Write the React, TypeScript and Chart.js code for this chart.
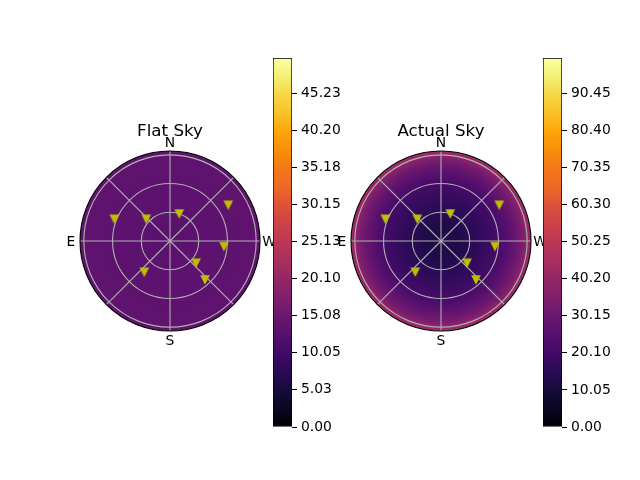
import React, { useEffect, useRef } from "react";
import { Chart, registerables } from "chart.js";

Chart.register(...registerables);

// ---------- data ----------
const panelTitles = ["Flat Sky", "Actual Sky"];
const compassLabels = ["N", "E", "S", "W"]; // azimuth 0, 90, 180, 270
const compassAzimuth = [0, 90, 180, 270];
const starAzimuth = [68.7, 47.5, 341, 301.5, 264, 229.4, 221.9, 140.6];
const starZenith = [62.4, 33.6, 29.8, 71.4, 56.7, 35.8, 54.7, 42.3];
const zenithGrid = [30, 60, 90];
const azimuthGrid = [0, 45, 90, 135, 180, 225, 270, 315];
const zenithMax = 94;
const profileZenith = [0, 15, 30, 45, 60, 70, 80, 86, 90, 94];
const flatSkyProfile = [13.0, 13.0, 13.1, 13.2, 13.3, 13.4, 13.5, 13.6, 13.6, 13.7];
const actualSkyProfile = [12, 12.5, 15, 17.5, 21, 25, 30.5, 35, 39.5, 43];
const flatMax = 50;
const actualMax = 100;
const flatTicks = [0, 5.03, 10.05, 15.08, 20.1, 25.13, 30.15, 35.18, 40.2, 45.23];
const actualTicks = [0, 10.05, 20.1, 30.15, 40.2, 50.25, 60.3, 70.35, 80.4, 90.45];

// inferno colormap, stops every 0.05
const inferno = [
  "#000004", "#0a0722", "#160b39", "#280b54", "#420a68", "#57106e", "#6a176e",
  "#7f1f6c", "#932667", "#a82e5f", "#bc3754", "#cc4248", "#dd513a", "#ed6925",
  "#f37819", "#f98e09", "#fca50a", "#f9c127", "#f6d746", "#f2f074", "#fcffa4",
];

// ---------- helpers ----------
function hexToRgb(h: string) {
  return [parseInt(h.slice(1, 3), 16), parseInt(h.slice(3, 5), 16), parseInt(h.slice(5, 7), 16)];
}
function cmap(t: number) {
  const c = Math.max(0, Math.min(1, t)) * (inferno.length - 1);
  const i = Math.min(inferno.length - 2, Math.floor(c));
  const f = c - i;
  const a = hexToRgb(inferno[i]);
  const b = hexToRgb(inferno[i + 1]);
  const m = a.map((v, j) => Math.round(v + (b[j] - v) * f));
  return `rgb(${m[0]},${m[1]},${m[2]})`;
}
const toXY = (az: number, zen: number) => {
  const r = (az * Math.PI) / 180;
  return { x: -zen * Math.sin(r), y: zen * Math.cos(r) };
};

function makeMarker() {
  const c = document.createElement("canvas");
  c.width = 12;
  c.height = 12;
  const g = c.getContext("2d")!;
  g.fillStyle = "#bfbf00";
  g.beginPath();
  g.moveTo(1.15, 1.15);
  g.lineTo(10.85, 1.15);
  g.lineTo(6, 10.85);
  g.closePath();
  g.fill();
  return c;
}

const FONT = "'DejaVu Sans', sans-serif";

// layout (pixels)
const W = 640;
const H = 480;
const centersX = [170, 441];
const centerY = 241;
const radiusPx = 90;
const k = zenithMax / radiusPx;

const panels = [
  { xId: "xL", title: panelTitles[0], profile: flatSkyProfile, max: flatMax },
  { xId: "xR", title: panelTitles[1], profile: actualSkyProfile, max: actualMax },
];

const skyPlugin = {
  id: "skyPanels",
  beforeDatasetsDraw(chart: any) {
    const ctx = chart.ctx;
    const ys = chart.scales.y;
    panels.forEach((p) => {
      const xs = chart.scales[p.xId];
      const cx = xs.getPixelForValue(0);
      const cy = ys.getPixelForValue(0);
      const R = xs.getPixelForValue(zenithMax) - cx;
      ctx.save();
      const g = ctx.createRadialGradient(cx, cy, 0, cx, cy, R);
      profileZenith.forEach((z, i) => g.addColorStop(z / zenithMax, cmap(p.profile[i] / p.max)));
      ctx.beginPath();
      ctx.arc(cx, cy, R, 0, Math.PI * 2);
      ctx.fillStyle = g;
      ctx.fill();
      ctx.strokeStyle = "#b0b0b0";
      ctx.lineWidth = 1.1;
      zenithGrid.forEach((z) => {
        const r = xs.getPixelForValue(z) - cx;
        ctx.beginPath();
        ctx.arc(cx, cy, r, 0, Math.PI * 2);
        ctx.stroke();
      });
      azimuthGrid.forEach((a) => {
        const e = toXY(a, zenithMax);
        ctx.beginPath();
        ctx.moveTo(cx, cy);
        ctx.lineTo(xs.getPixelForValue(e.x), ys.getPixelForValue(e.y));
        ctx.stroke();
      });
      ctx.strokeStyle = "#000";
      ctx.lineWidth = 1.1;
      ctx.beginPath();
      ctx.arc(cx, cy, R, 0, Math.PI * 2);
      ctx.stroke();
      ctx.fillStyle = "#000";
      ctx.font = `13.9px ${FONT}`;
      ctx.textAlign = "center";
      ctx.textBaseline = "alphabetic";
      compassLabels.forEach((lab, i) => {
        const r = (compassAzimuth[i] * Math.PI) / 180;
        const rl = R + 9;
        const lx = cx - rl * Math.sin(r);
        const ly = cy - rl * Math.cos(r);
        ctx.fillText(lab, lx, ly + 5);
      });
      ctx.font = `16.7px ${FONT}`;
      ctx.fillText(p.title, cx, cy - R - 15);
      ctx.restore();
    });
  },
};

function SkyCanvas() {
  const ref = useRef<HTMLCanvasElement>(null);
  useEffect(() => {
    const marker = makeMarker();
    const pts = starAzimuth.map((a, i) => toXY(a, starZenith[i]));
    const mk = (xId: string) => ({
      data: pts,
      xAxisID: xId,
      yAxisID: "y",
      pointStyle: marker,
      radius: 6,
      borderWidth: 0,
      backgroundColor: "#bfbf00",
      borderColor: "#bfbf00",
    });
    const chart = new Chart(ref.current!, {
      type: "scatter",
      data: { datasets: [mk("xL"), mk("xR")] as any },
      options: {
        responsive: false,
        animation: false,
        layout: { padding: 0, autoPadding: false },
        plugins: { legend: { display: false }, tooltip: { enabled: false } },
        scales: {
          xL: { type: "linear", display: false, min: -centersX[0] * k, max: (W - centersX[0]) * k },
          xR: { type: "linear", display: false, min: -centersX[1] * k, max: (W - centersX[1]) * k },
          y: { type: "linear", display: false, min: -(H - centerY) * k, max: centerY * k },
        },
      } as any,
      plugins: [skyPlugin],
    });
    return () => chart.destroy();
  }, []);
  return <canvas ref={ref} width={W} height={H} style={{ position: "absolute", left: 0, top: 0 }} />;
}

function ColorBar({ left, max, ticks }: { left: number; max: number; ticks: number[] }) {
  const ref = useRef<HTMLCanvasElement>(null);
  useEffect(() => {
    const chart = new Chart(ref.current!, {
      type: "bar",
      data: {
        labels: [""],
        datasets: [
          {
            data: [[0, max]] as any,
            backgroundColor: (c: any) => {
              const area = c.chart.chartArea;
              if (!area) return "#000";
              const g = c.chart.ctx.createLinearGradient(0, area.bottom, 0, area.top);
              inferno.forEach((col, i) => g.addColorStop(i / (inferno.length - 1), col));
              return g;
            },
            borderColor: "#000",
            borderWidth: 1,
            borderSkipped: false,
            barPercentage: 1,
            categoryPercentage: 1,
          },
        ],
      },
      options: {
        responsive: false,
        animation: false,
        layout: { padding: { top: 58, bottom: 53, left: 0, right: 0 } },
        plugins: { legend: { display: false }, tooltip: { enabled: false } },
        scales: {
          x: { display: false },
          y: {
            position: "right",
            min: 0,
            max,
            afterBuildTicks: (s: any) => {
              s.ticks = ticks.map((v) => ({ value: v }));
            },
            afterFit: (s: any) => {
              s.width = 60;
            },
            ticks: {
              color: "#000",
              padding: 4,
              font: { family: FONT, size: 13.9 },
              callback: (v: any) => Number(v).toFixed(2),
            },
            grid: { drawOnChartArea: false, color: "#000", tickLength: 5, lineWidth: 1 },
            border: { display: false },
          },
        },
      } as any,
    });
    return () => chart.destroy();
  }, []);
  return (
    <canvas ref={ref} width={79} height={H} style={{ position: "absolute", left, top: 0 }} />
  );
}

export default function App() {
  return (
    <div style={{ position: "fixed", left: 0, top: 0, width: W, height: H, background: "#fff" }}>
      <SkyCanvas />
      <ColorBar left={273} max={flatMax} ticks={flatTicks} />
      <ColorBar left={543} max={actualMax} ticks={actualTicks} />
    </div>
  );
}
